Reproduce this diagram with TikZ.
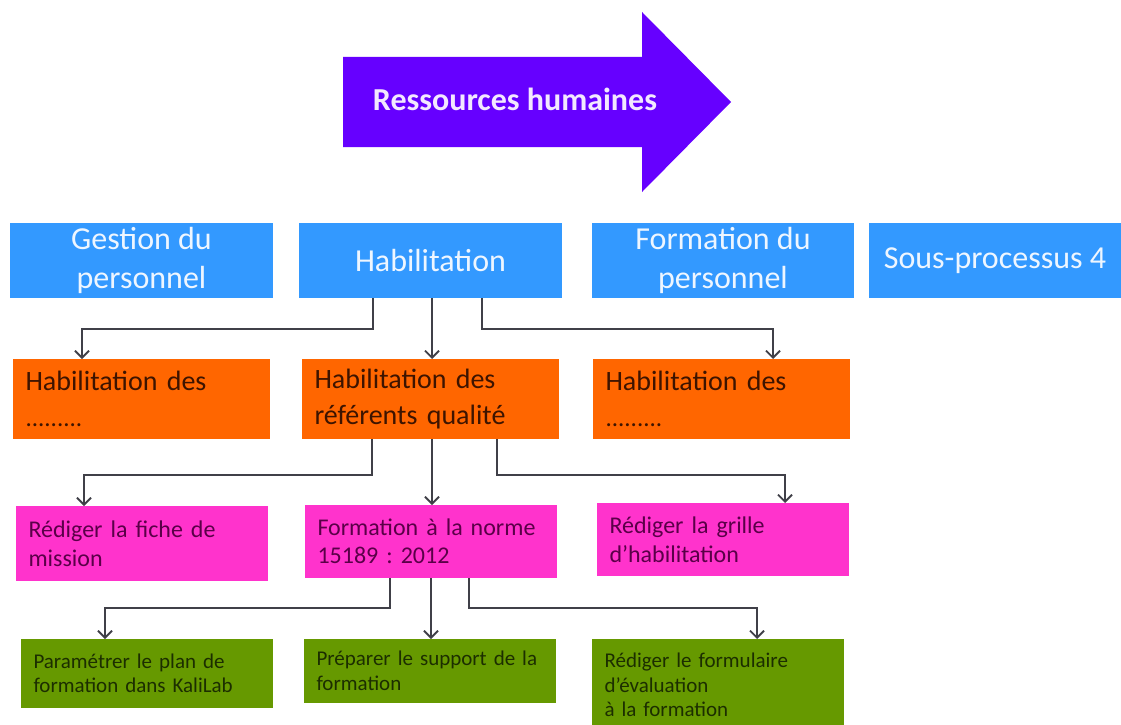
\documentclass[tikz,border=0pt]{standalone}
\usepackage{fontspec}
\setmainfont{Carlito}
\usetikzlibrary{arrows.meta}

\definecolor{rhviolet}{HTML}{6600FF}
\definecolor{rhtext}{HTML}{F3E8FF}
\definecolor{procblue}{HTML}{3399FF}
\definecolor{proctext}{HTML}{EEF6FF}
\definecolor{actorange}{HTML}{FF6600}
\definecolor{orangetext}{HTML}{3D1400}
\definecolor{taskpink}{HTML}{FF33CC}
\definecolor{pinktext}{HTML}{5A0048}
\definecolor{stepgreen}{HTML}{669900}
\definecolor{greentext}{HTML}{1C2E00}
\definecolor{linkgray}{HTML}{404048}

\newcommand{\placeholderdots}{{\fontsize{25}{36}\selectfont .........}}

\begin{document}
\frenchspacing
\begin{tikzpicture}[x=1pt, y=-1pt,
  box/.style={anchor=north west, inner ysep=0pt, outer sep=0pt},
  procbox/.style={box, fill=procblue, text=proctext, align=center,
    inner xsep=0pt, minimum height=75pt, font=\fontsize{32}{39}\selectfont},
  actbox/.style={box, fill=actorange, text=orangetext, align=left,
    inner xsep=12.5pt, text width=232pt, minimum height=80pt,
    font=\fontsize{28}{36}\selectfont},
  taskbox/.style={box, fill=taskpink, text=pinktext, align=left,
    inner xsep=12.5pt, text width=227pt,
    font=\fontsize{24}{28.5}\selectfont},
  stepbox/.style={box, fill=stepgreen, text=greentext, align=left,
    inner xsep=12.5pt, text width=227pt,
    font=\fontsize{21}{24.5}\selectfont},
  link/.style={draw=linkgray, line width=1.8pt,
    -{Straight Barb[length=7pt, width=14pt]}}
]
\useasboundingbox (0,0) rectangle (1121,725);

% process arrow
\fill[rhviolet] (343,57) -- (642,57) -- (642,12) -- (731,102)
  -- (642,192) -- (642,147) -- (343,147) -- cycle;
\node[text=rhtext, font=\bfseries\fontsize{32}{38}\selectfont]
  (rh) at (515,99) {Ressources humaines};

% sub-processes
\node[procbox, minimum width=263pt] (gp)  at (10,223)  {Gestion du\\personnel};
\node[procbox, minimum width=263pt] (hab) at (299,223) {Habilitation};
\node[procbox, minimum width=262pt] (fp)  at (592,223) {Formation du\\personnel};
\node[procbox, minimum width=252pt] (sp4) at (869,223) {Sous-processus 4};

% activities
\node[actbox] (o1) at (13,359)  {Habilitation des\\\placeholderdots};
\node[actbox] (o2) at (302,359) {Habilitation des\\référents qualité};
\node[actbox] (o3) at (593,359) {Habilitation des\\\placeholderdots};

% tasks
\node[taskbox, minimum height=75pt] (p1) at (16,506)  {Rédiger la fiche de\\mission};
\node[taskbox, minimum height=73pt] (p2) at (305,505) {Formation à la norme\\15189 : 2012};
\node[taskbox, minimum height=73pt] (p3) at (597,503) {Rédiger la grille\\d’habilitation};

% steps
\node[stepbox, minimum height=69pt] (g1) at (21,639)  {Paramétrer le plan de\\formation dans KaliLab};
\node[stepbox, minimum height=64pt] (g2) at (304,639) {Préparer le support de la\\formation};
\node[stepbox, minimum height=92pt] (g3) at (592,639) {Rédiger le formulaire\\d’évaluation\\à la formation};

% links from Habilitation
\draw[link] ([xshift=74pt]hab.south west) -- ++(0,31) -| ([xshift=69pt]o1.north west);
\draw[link] ([xshift=133pt]hab.south west) -- ([xshift=133pt]hab.south west |- o2.north);
\draw[link] ([xshift=183pt]hab.south west) -- ++(0,31) -| ([xshift=180pt]o3.north west);

% links from the quality referents activity
\draw[link] ([xshift=70pt]o2.south west) -- ++(0,36) -| ([xshift=68pt]p1.north west);
\draw[link] ([xshift=130pt]o2.south west) -- ([xshift=130pt]o2.south west |- p2.north);
\draw[link] ([xshift=195pt]o2.south west) -- ++(0,36) -| ([xshift=188pt]p3.north west);

% links from the training task
\draw[link] ([xshift=85pt]p2.south west) -- ++(0,30) -| ([xshift=84pt]g1.north west);
\draw[link] ([xshift=126pt]p2.south west) -- ([xshift=126pt]p2.south west |- g2.north);
\draw[link] ([xshift=164pt]p2.south west) -- ++(0,30) -| ([xshift=165pt]g3.north west);
\end{tikzpicture}
\end{document}
